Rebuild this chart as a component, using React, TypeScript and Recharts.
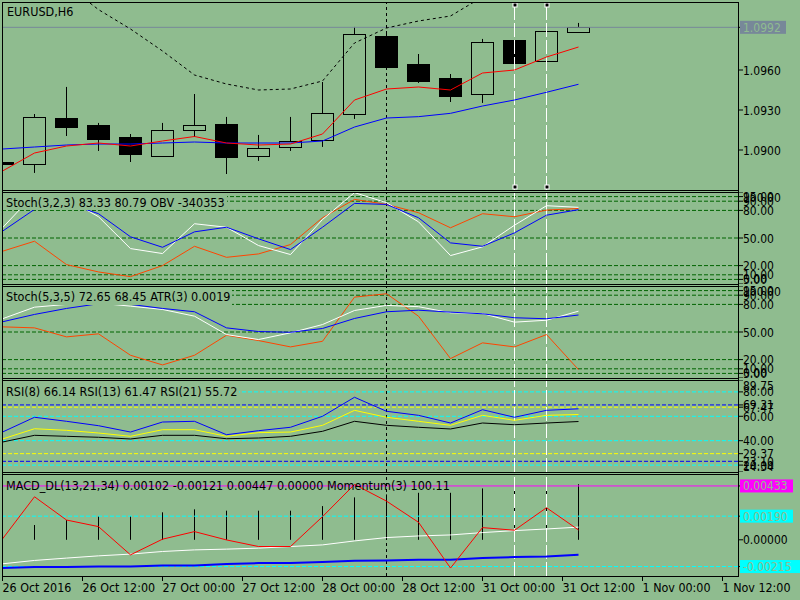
import { ComposedChart, Bar, Line, XAxis, YAxis, ReferenceLine, ReferenceDot } from "recharts"

const BG = "#8fbc8f"
const FONT = "'DejaVu Sans Condensed', 'DejaVu Sans', sans-serif"

// EURUSD H6 bars, left to right (bar 18 = current)
const OPEN = [1.08905, 1.08888, 1.09233, 1.0918, 1.0909, 1.08955, 1.09143, 1.09188, 1.08955, 1.09015, 1.09068, 1.09263, 1.09855, 1.09645, 1.09533, 1.09413, 1.09818, 1.0966, 1.09885]
const HIGH = [1.0891, 1.0927, 1.09473, 1.09203, 1.0912, 1.09203, 1.0942, 1.09248, 1.09113, 1.09248, 1.0951, 1.09923, 1.09878, 1.0972, 1.0957, 1.09833, 1.09825, 1.09938, 1.09953]
const LOW = [1.0888, 1.08828, 1.09105, 1.08993, 1.0891, 1.08955, 1.09098, 1.0882, 1.08918, 1.08993, 1.09023, 1.09233, 1.096, 1.09503, 1.0936, 1.09353, 1.09615, 1.09593, 1.09885]
const CLOSE = [1.0889, 1.0924, 1.09165, 1.09075, 1.08963, 1.0915, 1.0918, 1.0894, 1.09015, 1.0906, 1.0927, 1.09863, 1.09623, 1.09518, 1.09398, 1.09803, 1.09645, 1.09885, 1.0992]

const MA_FAST = [1.088425, 1.089775, 1.0903, 1.090525, 1.0903, 1.090675, 1.091013, 1.090525, 1.090375, 1.09045, 1.0912, 1.09375, 1.094575, 1.094725, 1.0945, 1.095775, 1.096, 1.096975, 1.097725]
const MA_SLOW = [1.090075, 1.090225, 1.090375, 1.09045, 1.09045, 1.090525, 1.0906, 1.090525, 1.090525, 1.090525, 1.090675, 1.091725, 1.0924, 1.0925, 1.09275, 1.0933, 1.09375, 1.09433, 1.09493]
const BAND_UPPER = [1.10575, 1.10425, 1.102375, 1.10053, 1.099075, 1.097425, 1.095625, 1.09495, 1.0945, 1.094575, 1.095175, 1.098025, 1.09915, 1.099675, 1.10005, 1.10148, 1.103125, 1.1041, 1.10485]

const STOCH1_MAIN = [61.1, 98, 93, 73.1, 38.5, 33.1, 65.5, 61.7, 41.8, 32, 70.1, 99.3, 88.4, 67.6, 30.9, 40.4, 63.9, 85.1, 83.33]
const STOCH1_SIGNAL = [57.4, 81.1, 88, 76.4, 51.3, 39.9, 56.7, 61.7, 49.1, 37.4, 61.7, 87.6, 86.5, 72, 44.7, 41, 55.6, 74.8, 80.79]
const OBV_LINE = [35.6, 46.5, 21.1, 13.1, 8, 20, 41, 29, 32.7, 42.9, 72, 92, 86.5, 77.5, 61.1, 76.4, 73.1, 80.3, 82.1]

const STOCH2_MAIN = [64.4, 77, 80, 81.4, 78.1, 74.5, 67.2, 47.2, 41.8, 49.1, 58.1, 73.4, 78.9, 77.5, 70.9, 70.1, 60.7, 62.8, 72.65]
const STOCH2_SIGNAL = [61.1, 69.1, 75.6, 80.7, 80, 75.6, 72, 54.5, 50.5, 49.7, 53.8, 64.7, 72, 73.7, 71.6, 69.8, 65.5, 64.4, 68.45]
const ATR_LINE = [55.6, 54.5, 44.7, 48, 24.7, 14.2, 24.7, 46.5, 40.7, 33.8, 39.9, 87.9, 91.6, 67.2, 21.1, 38.2, 33.8, 47.2, 9.1]

const RSI8 = [47.1, 59.2, 55.9, 52.3, 47.1, 55.3, 55.9, 44.9, 48.2, 51, 60, 75.6, 64.1, 60.8, 54.5, 65.4, 59.2, 64.9, 66.14]
const RSI13 = [41.4, 49.8, 48.5, 46.3, 43.6, 49, 49, 43.6, 46.6, 47.1, 52.6, 64.9, 59.2, 55.9, 52.6, 60.8, 56.7, 60.8, 61.47]
const RSI21 = [38.9, 44.4, 43.6, 42.8, 41.4, 44.4, 44.4, 41.6, 42.2, 43.6, 47.7, 55.9, 52.6, 51, 49.6, 54.5, 53.1, 54.5, 55.72]

const MACD_HIST = [0.0009, 0.00119, 0.00159, 0.00191, 0.00191, 0.00221, 0.00245, 0.00234, 0.00234, 0.00234, 0.00271, 0.00341, 0.00365, 0.00378, 0.00378, 0.00413, 0.00413, 0.00447, 0.00447]
const MACD_MAIN = [-0.00193, -0.00166, -0.00147, -0.00129, -0.00115, -0.00094, -0.00081, -0.00075, -0.00067, -0.00054, -0.00041, -0.00009, 0.00018, 0.00031, 0.00039, 0.00058, 0.00074, 0.00087, 0.00102]
const MACD_SIGNAL = [-0.00227, -0.00219, -0.00219, -0.00214, -0.00214, -0.00206, -0.00206, -0.00195, -0.00187, -0.00187, -0.00179, -0.00169, -0.00166, -0.00161, -0.00161, -0.00147, -0.00139, -0.00134, -0.00121]
const MOMENTUM = [0.00007, 0.00346, 0.00159, 0.00106, -0.00121, 0.00005, 0.00066, -0.00001, -0.00054, -0.00054, 0.00186, 0.00445, 0.00311, 0.00141, -0.00227, 0.00098, 0.00077, 0.00258, 0.00079]

const TIME_TICKS = [0, 2.5, 5, 7.5, 10, 12.5, 15, 17.5, 20, 22.5]
const TIME_LABELS = ["26 Oct 2016", "26 Oct 12:00", "27 Oct 00:00", "27 Oct 12:00", "28 Oct 00:00", "28 Oct 12:00", "31 Oct 00:00", "31 Oct 12:00", "1 Nov 00:00", "1 Nov 12:00"]

const PRICE_TICKS = [1.09, 1.093, 1.096]
const BID = 1.0992
const STOCH_LEVELS = [95, 90, 80, 50, 20, 10, 5]
const RSI_CYAN = [80, 60, 40, 20]
const RSI_BLUE = [69.31, 23.1]
const RSI_YELLOW = [67.47, 29.37]
const MACD_CYAN = [0.0019, -0.00215]
const MACD_MAGENTA = 0.00433

// vertical markers (bar index)
const DAY_LINE = 12
const SELECTED = [16, 17]

const X_DOMAIN = [-1 / 64, 23 - 1 / 64]
const PRICE_DOMAIN = [1.087, 1.101025]
const RSI_DOMAIN = [14.34, 89.75]
const MACD_DOMAIN = [-0.00291, 0.00521]

const priceRows = OPEN.map((open, i) => ({
  i,
  open,
  high: HIGH[i],
  low: LOW[i],
  close: CLOSE[i],
  range: [LOW[i], HIGH[i]],
  maFast: MA_FAST[i],
  maSlow: MA_SLOW[i],
  band: BAND_UPPER[i],
}))
const stoch1Rows = STOCH1_MAIN.map((main, i) => ({ i, main, signal: STOCH1_SIGNAL[i], extra: OBV_LINE[i] }))
const stoch2Rows = STOCH2_MAIN.map((main, i) => ({ i, main, signal: STOCH2_SIGNAL[i], extra: ATR_LINE[i] }))
const rsiRows = RSI8.map((r8, i) => ({ i, r8, r13: RSI13[i], r21: RSI21[i] }))
const macdRows = MACD_HIST.map((hist, i) => ({ i, hist, macd: MACD_MAIN[i], signal: MACD_SIGNAL[i], mom: MOMENTUM[i] }))

const snap = (v: number) => Math.round(v - 0.5) + 0.5

// candle drawn from the [low, high] bar
const Candle = (props: any) => {
  const { x, y, width, height, payload } = props
  if (x == null || !payload) return <g />
  const { open, close, high, low } = payload
  const cx = snap(x + width / 2)
  const k = height / (high - low)
  const yo = y + (high - open) * k
  const yc = y + (high - close) * k
  const top = snap(Math.min(yo, yc))
  const h = Math.max(Math.round(Math.abs(yo - yc)), 1)
  return (
    <g>
      <line x1={cx} x2={cx} y1={y} y2={y + height} stroke="#000" />
      <rect x={cx - 11} y={top} width={22} height={h} fill={close >= open ? BG : "#000"} stroke="#000" />
    </g>
  )
}

const HistBar = (props: any) => {
  const { x, y, width, height } = props
  if (x == null) return <g />
  const cx = snap(x + width / 2)
  return <line x1={cx} x2={cx} y1={y} y2={y + height} stroke="#000" />
}

const Handle = (props: any) => {
  const { cx, cy } = props
  return <rect x={Math.round(cx) - 2} y={Math.round(cy) - 2} width={4} height={4} fill="#000" stroke="#fff" />
}

const axisTick = (digits: number, boxes: Record<string, string> = {}, top?: number, bottom?: number) => (props: any) => {
  const { x, y, payload } = props
  const v = payload.value as number
  const text = v.toFixed(digits)
  const box = boxes[text]
  let dy = 4.5
  if (top !== undefined && v === top) dy = 10
  if (bottom !== undefined && v === bottom) dy = -1
  return (
    <g>
      {box && <rect x={x - 3} y={y - 6.5} width={text.length * 7 + 4} height={13} fill={box} />}
      <text x={x} y={y} dy={dy} textAnchor="start" fill={box ? BG : "#000"} fontSize={12} fontFamily={FONT}>
        {text}
      </text>
    </g>
  )
}

const TimeTick = (props: any) => {
  const { x, y, payload } = props
  return (
    <text x={x} y={y} dy={8.5} textAnchor="start" fill="#000" fontSize={12.4} fontFamily={FONT}>
      {TIME_LABELS[TIME_TICKS.indexOf(payload.value)]}
    </text>
  )
}

const markers = () => [
  <ReferenceLine key="day" x={DAY_LINE} stroke="#000" strokeDasharray="3 3" />,
  ...SELECTED.map((s) => <ReferenceLine key={`sel${s}`} x={s} stroke="#fff" strokeDasharray="14 3" />),
]

const hiddenX = <XAxis type="number" dataKey="i" domain={X_DOMAIN} allowDataOverflow ticks={TIME_TICKS} hide />

const yAxisProps = {
  orientation: "right" as const,
  width: 62,
  allowDataOverflow: true,
  interval: 0 as const,
  axisLine: false,
  tickLine: { stroke: "#000" },
  tickSize: 5,
  tickMargin: 0,
}

const line = (key: string, color: string, extra: any = {}) => (
  <Line key={key} dataKey={key} stroke={color} strokeWidth={1} dot={false} activeDot={false} isAnimationActive={false} type="linear" {...extra} />
)

const labelStyle: React.CSSProperties = {
  position: "absolute",
  fontFamily: FONT,
  fontSize: 12.5,
  lineHeight: "14px",
  color: "#000",
  whiteSpace: "nowrap",
}

const FRAME_ROWS = [2, 190, 192, 284, 286, 378, 380, 472, 474, 576]

const StochPanel = ({ rows, top }: { rows: any[]; top: number }) => (
  <div style={{ position: "absolute", left: 2, top }}>
    <ComposedChart width={798} height={92} data={rows} margin={{ top: 0, right: 0, bottom: 0, left: 0 }}>
      {hiddenX}
      <YAxis {...yAxisProps} domain={[0, 100]} ticks={[100, ...STOCH_LEVELS, 0]} tick={axisTick(2, {}, 100, 0)} />
      {STOCH_LEVELS.map((l) => (
        <ReferenceLine key={l} y={l} stroke="#006400" strokeDasharray="4 2" />
      ))}
      {markers()}
      {line("extra", "#ff4500")}
      {line("main", "#ffffff")}
      {line("signal", "#0000ff")}
    </ComposedChart>
  </div>
)

export default function App() {
  return (
    <div style={{ position: "absolute", left: 0, top: 0, width: 800, height: 600, background: BG, overflow: "hidden" }}>
      {/* price */}
      <div style={{ position: "absolute", left: 2, top: 3 }}>
        <ComposedChart width={798} height={187} data={priceRows} margin={{ top: 0, right: 0, bottom: 0, left: 0 }}>
          {hiddenX}
          <YAxis {...yAxisProps} domain={PRICE_DOMAIN} ticks={[...PRICE_TICKS, BID]} tick={axisTick(4, { [BID.toFixed(4)]: "#778899" })} />
          <ReferenceLine y={BID} stroke="#778899" />
          {markers()}
          <Bar dataKey="range" barSize={22} shape={(p: any) => <Candle {...p} />} isAnimationActive={false} />
          {line("band", "#000000", { strokeDasharray: "3 3" })}
          {line("maSlow", "#0000ff")}
          {line("maFast", "#ff0000")}
          {SELECTED.map((s) => [
            <ReferenceDot key={`ht${s}`} x={s} y={1.10088} r={2} shape={(p: any) => <Handle {...p} />} />,
            <ReferenceDot key={`hb${s}`} x={s} y={1.08722} r={2} shape={(p: any) => <Handle {...p} />} />,
          ])}
        </ComposedChart>
      </div>

      <StochPanel rows={stoch1Rows} top={192} />
      <StochPanel rows={stoch2Rows} top={286} />

      {/* RSI */}
      <div style={{ position: "absolute", left: 2, top: 380 }}>
        <ComposedChart width={798} height={92} data={rsiRows} margin={{ top: 0, right: 0, bottom: 0, left: 0 }}>
          {hiddenX}
          <YAxis
            {...yAxisProps}
            domain={RSI_DOMAIN}
            ticks={[RSI_DOMAIN[1], ...RSI_CYAN, ...RSI_BLUE, ...RSI_YELLOW, RSI_DOMAIN[0]]}
            tick={axisTick(2, {}, RSI_DOMAIN[1], RSI_DOMAIN[0])}
          />
          {RSI_CYAN.map((l) => (
            <ReferenceLine key={`c${l}`} y={l} stroke="#00ffff" strokeDasharray="4 2" />
          ))}
          {RSI_BLUE.map((l) => (
            <ReferenceLine key={`b${l}`} y={l} stroke="#0000ff" strokeDasharray="4 2" />
          ))}
          {RSI_YELLOW.map((l) => (
            <ReferenceLine key={`y${l}`} y={l} stroke="#ffff00" strokeDasharray="4 2" />
          ))}
          {markers()}
          {line("r21", "#000000")}
          {line("r13", "#ffff00")}
          {line("r8", "#0000ff")}
        </ComposedChart>
      </div>

      {/* MACD + momentum */}
      <div style={{ position: "absolute", left: 2, top: 475 }}>
        <ComposedChart width={798} height={125} data={macdRows} margin={{ top: 0, right: 0, bottom: 0, left: 0 }}>
          <XAxis
            type="number"
            dataKey="i"
            domain={X_DOMAIN}
            allowDataOverflow
            ticks={TIME_TICKS}
            interval={0}
            height={24}
            axisLine={false}
            tickLine={{ stroke: "#000" }}
            tickSize={5}
            tickMargin={2}
            tick={(p: any) => <TimeTick {...p} />}
          />
          <YAxis
            {...yAxisProps}
            domain={MACD_DOMAIN}
            ticks={[MACD_MAGENTA, ...MACD_CYAN, 0]}
            tick={axisTick(5, { [MACD_MAGENTA.toFixed(5)]: "#ff00ff", [MACD_CYAN[0].toFixed(5)]: "#00ffff", [MACD_CYAN[1].toFixed(5)]: "#00ffff" })}
          />
          <ReferenceLine y={MACD_MAGENTA} stroke="#ff00ff" />
          {MACD_CYAN.map((l) => (
            <ReferenceLine key={l} y={l} stroke="#00ffff" strokeDasharray="4 2" />
          ))}
          {markers()}
          <Bar dataKey="hist" barSize={2} shape={(p: any) => <HistBar {...p} />} isAnimationActive={false} />
          {line("macd", "#ffffff")}
          {line("signal", "#0000ff", { strokeWidth: 2 })}
          {line("mom", "#ff0000")}
        </ComposedChart>
      </div>

      {/* frames */}
      {FRAME_ROWS.map((y) => (
        <div key={y} style={{ position: "absolute", left: 2, top: y, width: 737, height: 1, background: "#000" }} />
      ))}
      <div style={{ position: "absolute", left: 2, top: 2, width: 1, height: 575, background: "#000" }} />
      <div style={{ position: "absolute", left: 738, top: 2, width: 1, height: 575, background: "#000" }} />

      {/* indicator captions */}
      <div style={{ ...labelStyle, left: 7, top: 5 }}>EURUSD,H6</div>
      <div style={{ ...labelStyle, left: 3, top: 193, padding: "3px 2px 0 3px", background: BG }}>
        Stoch(3,2,3) 83.33 80.79 OBV -340353
      </div>
      <div style={{ ...labelStyle, left: 3, top: 287, padding: "3px 2px 1px 3px", background: BG }}>
        Stoch(5,3,5) 72.65 68.45 ATR(3) 0.0019
      </div>
      <div style={{ ...labelStyle, left: 3, top: 381, padding: "4px 2px 1px 3px", background: BG }}>
        RSI(8) 66.14 RSI(13) 61.47 RSI(21) 55.72
      </div>
      <div style={{ ...labelStyle, left: 6, top: 479 }}>
        MACD_DL(13,21,34) 0.00102 -0.00121 0.00447 0.00000 Momentum(3) 100.11
      </div>
    </div>
  )
}
